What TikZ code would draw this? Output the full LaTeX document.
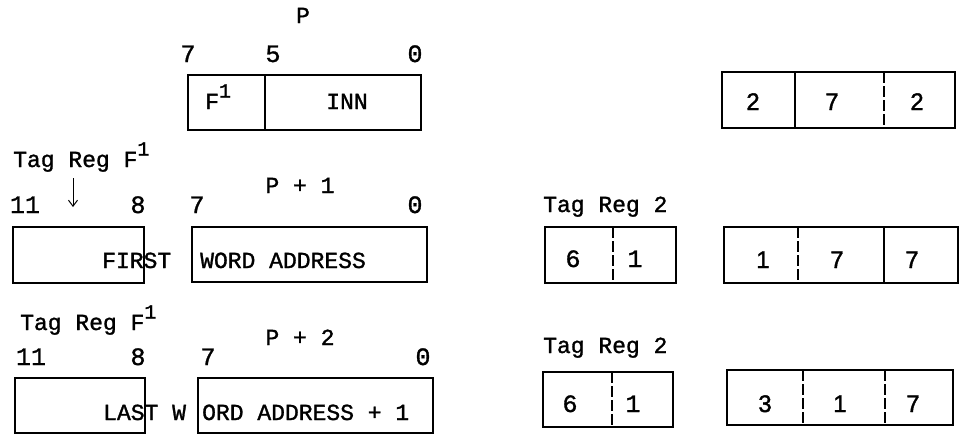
\documentclass[tikz,border=0pt]{standalone}
\usepackage{fontspec}
\setmonofont[FakeBold=1.3]{Liberation Mono}
\newfontfamily\sansf[FakeBold=1.6]{Liberation Sans}
\usetikzlibrary{arrows.meta}
\tikzset{
  box/.style={draw, line width=1.4pt},
  div/.style={line width=1.1pt},
  ddiv/.style={line width=1.1pt, dash pattern=on 11pt off 3pt},
  txt/.style={font=\ttfamily\fontsize{23}{26}\selectfont, inner sep=0pt, anchor=base west},
  dig/.style={font=\ttfamily\fontsize{25}{28}\selectfont, inner sep=0pt, anchor=base},
  sdig/.style={font=\sansf\fontsize{24}{28}\selectfont, inner sep=0pt, anchor=base},
}
\newcommand{\supone}{\raisebox{0.5em}{\fontsize{20}{20}\selectfont 1}}
\begin{document}
\begin{tikzpicture}[x=1pt,y=-1pt]
\useasboundingbox (0,0) rectangle (962,434);
% ---- top: P ----
\node[txt, anchor=base] (p) at (303,23) {P};
\node[dig] (p7) at (188,62) {7};
\node[dig] (p5) at (273,62) {5};
\node[dig] (p0) at (415,62) {0};
\draw[box] (188,75) rectangle (421,130);
\draw[div] (265,75) -- (265,130);
\node[txt] (f1) at (205,109) {F\supone};
\node[txt, anchor=base] (inn) at (347,109) {INN};
% ---- row 2: P+1 ----
\node[txt] (tag1) at (13,167) {Tag Reg F\supone};
\coordinate (arrtop) at (73,178);
\coordinate (arrbot) at (73,207);
\draw[line width=1pt, -{Straight Barb[length=6pt,width=9pt]}] (arrtop) -- (arrbot);
\node[txt, anchor=base] (pp1) at (300,193) {P + 1};
\node[dig] (a11) at (25,213) {11};
\node[dig] (a8) at (138,213) {8};
\node[dig] (a7) at (197,213) {7};
\node[dig] (a0) at (415,213) {0};
\draw[box] (13,227) rectangle (144,283);
\draw[box] (192,227) rectangle (427,282);
\node[txt] (first) at (102,268) {FIRST};
\node[txt] (wa) at (200,268) {WORD ADDRESS};
% ---- row 3: P+2 ----
\node[txt] (tag2) at (20,330) {Tag Reg F\supone};
\node[txt, anchor=base] (pp2) at (300,345) {P + 2};
\node[dig] (b11) at (31,365) {11};
\node[dig] (b8) at (138,365) {8};
\node[dig] (b7) at (208,365) {7};
\node[dig] (b0) at (423,365) {0};
\draw[box] (15,378) rectangle (145,433);
\draw[box] (198,378) rectangle (433,433);
\node[txt] (last) at (103,420) {LAST W};
\node[txt] (wa2) at (202,420) {ORD ADDRESS + 1};
% ---- right column ----
\draw[box] (722,72) rectangle (955,128);
\draw[div] (795,72) -- (795,128);
\draw[ddiv] (884,72) -- (884,128);
\node[sdig] (r1a) at (753,110) {2};
\node[sdig] (r1b) at (832,110) {7};
\node[sdig] (r1c) at (917,110) {2};
% Tag Reg 2 (row 2)
\node[txt] (tr2a) at (543,212) {Tag Reg 2};
\draw[box] (545,227) rectangle (676,283);
\draw[ddiv] (613,227) -- (613,283);
\node[dig] (t2a6) at (573,267) {6};
\node[dig] (t2a1) at (635,267) {1};
\draw[box] (724,227) rectangle (958,283);
\draw[ddiv] (798,227) -- (798,283);
\draw[div] (884,227) -- (884,283);
\node[sdig] (r2a) at (763,268) {1};
\node[sdig] (r2b) at (837,268) {7};
\node[sdig] (r2c) at (912,268) {7};
% Tag Reg 2 (row 3)
\node[txt] (tr2b) at (543,353) {Tag Reg 2};
\draw[box] (543,372) rectangle (673,427);
\draw[ddiv] (612,372) -- (612,427);
\node[dig] (t2b6) at (570,412) {6};
\node[dig] (t2b1) at (633,412) {1};
\draw[box] (727,370) rectangle (953,425);
\draw[ddiv] (803,370) -- (803,425);
\draw[ddiv] (885,370) -- (885,425);
\node[sdig] (r3a) at (765,412) {3};
\node[sdig] (r3b) at (840,412) {1};
\node[sdig] (r3c) at (913,412) {7};
\end{tikzpicture}
\end{document}
